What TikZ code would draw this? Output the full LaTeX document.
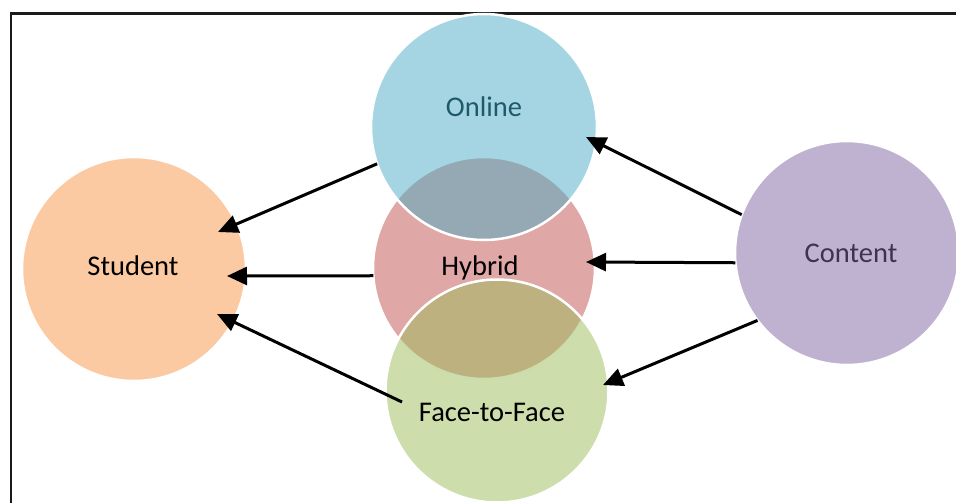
\documentclass[tikz,border=0pt]{standalone}
\usepackage{fontspec}
\setmainfont{Carlito}
\usetikzlibrary{arrows.meta}
\definecolor{cblue}{HTML}{4BACC6}
\definecolor{cred}{HTML}{C0504D}
\definecolor{cgreen}{HTML}{9BBB59}
\definecolor{corange}{HTML}{F79646}
\definecolor{cpurple}{HTML}{8064A2}
\definecolor{onlinetext}{HTML}{1F5A6A}
\definecolor{contenttext}{HTML}{3F3151}
\definecolor{frameline}{HTML}{1A1A1A}
\tikzset{
  circ/.style={circle, draw=white, line width=2.5pt, fill opacity=0.5, draw opacity=1, inner sep=0pt, outer sep=0pt},
  lbl/.style={font=\fontsize{28.5}{34}\selectfont, inner sep=0pt},
  conn/.style={line width=3pt, -{Triangle[length=20pt,width=18pt]}}
}
\begin{document}
\begin{tikzpicture}[x=1pt,y=-1pt]
\useasboundingbox (0,0) rectangle (956,503);
\draw[frameline, line width=2.5pt] (11,520) -- (11,13.5) -- (970,13.5);
% circles
\node[circ, fill=corange, minimum size=224pt] (student) at (134,269) {};
\node[circ, fill=cpurple, minimum size=224pt] (content) at (847,253) {};
\node[circ, fill=cred, minimum size=222pt] (hybrid) at (484,268) {};
\node[circ, fill=cblue, minimum size=226pt] (online) at (484,127) {};
\node[circ, fill=cgreen, minimum size=223pt] (f2f) at (497,391) {};
% inner connector ends
\coordinate (s1) at (218,232);
\coordinate (s2) at (227,276);
\coordinate (s3) at (217,314);
\coordinate (f2fstart) at (402,402);
\coordinate (o1) at (586,137);
\coordinate (h1) at (586,262);
\coordinate (g1) at (603,385);
% connectors
\draw[conn] (online.199) -- (s1);
\draw[conn] (hybrid.184) -- (s2);
\draw[conn] (f2fstart) -- (s3);
\draw[conn] (content.160) -- (o1);
\draw[conn] (content.185) -- (h1);
\draw[conn] (content.217) -- (g1);
% labels
\node[lbl] (lstudent) at (133,266) {Student};
\node[lbl, text=onlinetext] (lonline) at (484,107) {Online};
\node[lbl] (lhybrid) at (480,268) {Hybrid};
\node[lbl, text=contenttext] (lcontent) at (851,253) {Content};
\node[lbl] (lf2f) at (492,412) {Face-to-Face};
\end{tikzpicture}
\end{document}
